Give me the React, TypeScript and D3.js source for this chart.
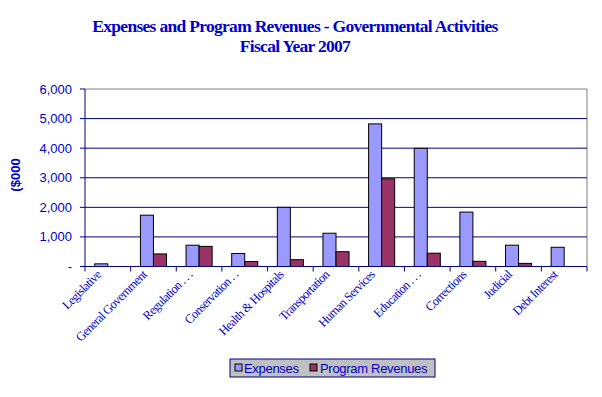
import React from "react";
import * as d3 from "d3";

const categories = [
  "Legislative",
  "General Government",
  "Regulation . . .",
  "Conservation . .",
  "Health & Hospitals",
  "Transportation",
  "Human Services",
  "Education . . .",
  "Corrections",
  "Judicial",
  "Debt Interest",
];
const expenses = [90, 1735, 720, 440, 2000, 1125, 4820, 3995, 1840, 720, 650];
const programRevenues = [0, 425, 680, 170, 230, 500, 2965, 450, 175, 105, 0];
const yTicks = [0, 1000, 2000, 3000, 4000, 5000, 6000];
const seriesNames = ["Expenses", "Program Revenues"];
const seriesColors = ["#9999FF", "#993366"];

const W = 602;
const H = 397;
const left = 85;
const right = 587;
const top = 89;
const bottom = 266.5;

export default function App() {
  const x = d3.scaleBand<string>().domain(categories).range([left, right]);
  const y = d3.scaleLinear().domain([0, 6000]).range([bottom, top]);
  const bw = x.bandwidth() / 3.5;
  const fmt = d3.format(",");
  const navy = "#000080";
  const txt = "#0000CC";

  return (
    <svg width={W} height={H} style={{ position: "absolute", left: 0, top: 0, background: "#fff" }}>
      <text x={295} y={32} textAnchor="middle" fontFamily="Liberation Serif, serif" fontWeight="bold" fontSize={17.5} fill="#0000CC" letterSpacing={-0.7}>
        Expenses and Program Revenues - Governmental Activities
      </text>
      <text x={295} y={52} textAnchor="middle" fontFamily="Liberation Serif, serif" fontWeight="bold" fontSize={17.5} fill="#0000CC" letterSpacing={-0.7}>
        Fiscal Year 2007
      </text>

      {/* plot border top/right */}
      <line x1={left} x2={right} y1={top} y2={top} stroke="#808080" strokeWidth={1} />
      <line x1={right} x2={right} y1={top} y2={bottom} stroke="#808080" strokeWidth={1} />

      {yTicks.filter((t) => t > 0 && t < 6000).map((t) => (
        <line key={t} x1={left} x2={right} y1={y(t)} y2={y(t)} stroke={navy} strokeWidth={1} />
      ))}

      {categories.map((c, i) => (
        <g key={c}>
          {expenses[i] > 0 && (
            <rect x={x(c)! + bw * 0.75} y={y(expenses[i])} width={bw} height={bottom - y(expenses[i])} fill={seriesColors[0]} stroke="#000" strokeWidth={1} />
          )}
          {programRevenues[i] > 0 && (
            <rect x={x(c)! + bw * 1.75} y={y(programRevenues[i])} width={bw} height={bottom - y(programRevenues[i])} fill={seriesColors[1]} stroke="#000" strokeWidth={1} />
          )}
        </g>
      ))}

      {/* axes */}
      <line x1={left} x2={left} y1={top} y2={bottom} stroke={navy} strokeWidth={1} />
      <line x1={left} x2={right} y1={bottom} y2={bottom} stroke={navy} strokeWidth={1} />
      {yTicks.map((t) => (
        <g key={t}>
          <line x1={left - 5} x2={left} y1={y(t)} y2={y(t)} stroke={navy} />
          <text x={72} y={y(t) + 4.5} textAnchor="end" fontFamily="Liberation Sans, Arial, sans-serif" fontSize={13} fill={txt}>
            {t === 0 ? "-" : fmt(t)}
          </text>
        </g>
      ))}
      {categories.map((c) => (
        <line key={c} x1={x(c)!} x2={x(c)!} y1={bottom} y2={bottom + 5} stroke={navy} />
      ))}
      <line x1={right} x2={right} y1={bottom} y2={bottom + 5} stroke={navy} />

      {categories.map((c) => {
        const cx = x(c)! + x.bandwidth() / 2 - 6;
        const cy = bottom + 9;
        return (
          <text key={c} transform={`translate(${cx},${cy}) rotate(-45)`} textAnchor="end" fontFamily="Liberation Serif, serif" fontSize={12.5} fill={txt} letterSpacing={-0.6}>
            {c}
          </text>
        );
      })}

      <text transform="translate(20,175) rotate(-90)" textAnchor="middle" fontFamily="Liberation Sans, Arial, sans-serif" fontWeight="bold" fontSize={13} fill={txt}>
        ($000
      </text>

      {/* legend */}
      <rect x={230} y={359} width={205} height={18} fill="#C0C0C0" stroke={navy} strokeWidth={1} />
      <rect x={235} y={364} width={7} height={7} fill={seriesColors[0]} stroke="#000" />
      <text x={244} y={372.5} fontFamily="Liberation Sans, Arial, sans-serif" fontSize={13} fill={txt} letterSpacing={-0.3}>
        {seriesNames[0]}
      </text>
      <rect x={310} y={364} width={7} height={7} fill={seriesColors[1]} stroke="#000" />
      <text x={320} y={372.5} fontFamily="Liberation Sans, Arial, sans-serif" fontSize={13} fill={txt} letterSpacing={-0.3}>
        {seriesNames[1]}
      </text>
    </svg>
  );
}
